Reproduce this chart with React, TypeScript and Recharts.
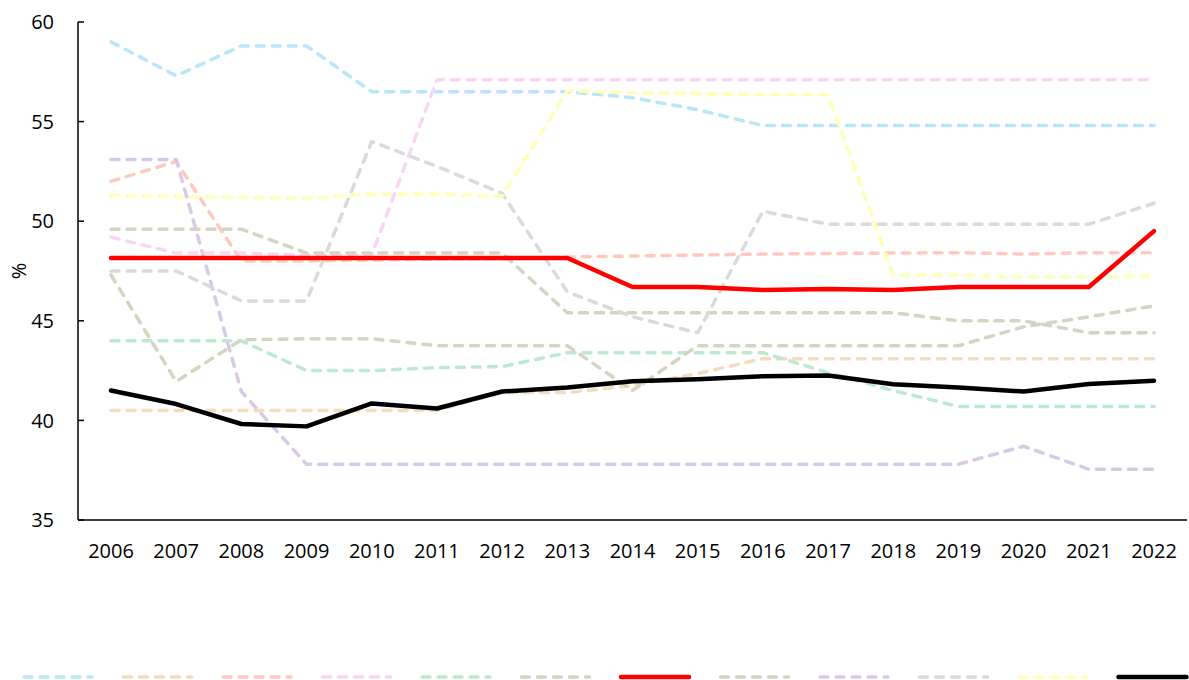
import { LineChart, Line, XAxis, YAxis, Legend } from "recharts";

const years = [
  "2006", "2007", "2008", "2009", "2010", "2011", "2012", "2013", "2014",
  "2015", "2016", "2017", "2018", "2019", "2020", "2021", "2022",
];

const yTicks = [35, 40, 45, 50, 55, 60];

// values, one array per line
const blueValues = [59.0, 57.3, 58.8, 58.8, 56.5, 56.5, 56.5, 56.5, 56.2, 55.6, 54.8, 54.8, 54.8, 54.8, 54.8, 54.8, 54.8];
const peachValues = [40.5, 40.5, 40.5, 40.5, 40.5, 40.5, 41.4, 41.4, 41.75, 42.35, 43.1, 43.1, 43.1, 43.1, 43.1, 43.1, 43.1];
const salmonValues = [52.0, 53.0, 48.0, 48.0, 48.05, 48.1, 48.1, 48.2, 48.25, 48.3, 48.35, 48.38, 48.4, 48.42, 48.35, 48.42, 48.42];
const pinkValues = [49.2, 48.4, 48.4, 48.3, 48.3, 57.1, 57.1, 57.1, 57.1, 57.1, 57.1, 57.1, 57.1, 57.1, 57.1, 57.1, 57.1];
const greenValues = [44.0, 44.0, 44.0, 42.5, 42.5, 42.65, 42.7, 43.4, 43.4, 43.4, 43.4, 42.4, 41.5, 40.7, 40.7, 40.7, 40.7];
const oliveValues = [49.6, 49.6, 49.6, 48.4, 48.4, 48.4, 48.4, 45.4, 45.4, 45.4, 45.4, 45.4, 45.4, 45.0, 45.0, 44.4, 44.4];
const redValues = [48.15, 48.15, 48.15, 48.15, 48.15, 48.15, 48.15, 48.15, 46.7, 46.7, 46.55, 46.6, 46.55, 46.7, 46.7, 46.7, 49.5];
const olive2Values = [47.3, 41.95, 44.05, 44.1, 44.1, 43.75, 43.75, 43.75, 41.5, 43.75, 43.75, 43.75, 43.75, 43.75, 44.7, 45.2, 45.75];
const lavenderValues = [53.1, 53.1, 41.45, 37.8, 37.8, 37.8, 37.8, 37.8, 37.8, 37.8, 37.8, 37.8, 37.8, 37.8, 38.7, 37.55, 37.55];
const grayValues = [47.5, 47.5, 46.0, 46.0, 54.0, 52.75, 51.4, 46.45, 45.2, 44.4, 50.5, 49.85, 49.85, 49.85, 49.85, 49.85, 50.9];
const yellowValues = [51.3, 51.25, 51.2, 51.15, 51.35, 51.35, 51.25, 56.55, 56.45, 56.4, 56.35, 56.35, 47.3, 47.3, 47.2, 47.2, 47.25];
const blackValues = [41.5, 40.82, 39.82, 39.7, 40.85, 40.6, 41.45, 41.65, 41.96, 42.07, 42.22, 42.25, 41.82, 41.65, 41.45, 41.83, 41.99];

type SeriesDef = {
  key: string;
  values: number[];
  color: string;
  width: number;
  dash?: string;
};

// legend order
const series: SeriesDef[] = [
  { key: "s1", values: blueValues, color: "#BAE6F9", width: 3.5, dash: "8 8" },
  { key: "s2", values: peachValues, color: "#F5DCBF", width: 3.5, dash: "8 8" },
  { key: "s3", values: salmonValues, color: "#FFC9BF", width: 3.5, dash: "8 8" },
  { key: "s4", values: pinkValues, color: "#F7D7F3", width: 3.5, dash: "8 8" },
  { key: "s5", values: greenValues, color: "#BEE9D1", width: 3.5, dash: "8 8" },
  { key: "s6", values: oliveValues, color: "#D3D5C0", width: 3.5, dash: "8 8" },
  { key: "s7", values: redValues, color: "#FF0000", width: 4.5 },
  { key: "s8", values: olive2Values, color: "#D3D5C0", width: 3.5, dash: "8 8" },
  { key: "s9", values: lavenderValues, color: "#D9C9E6", width: 3.5, dash: "8 8" },
  { key: "s10", values: grayValues, color: "#DADADA", width: 3.5, dash: "8 8" },
  { key: "s11", values: yellowValues, color: "#FFFFB8", width: 3.5, dash: "8 8" },
  { key: "s12", values: blackValues, color: "#000000", width: 4.5 },
];

const data = years.map((year, i) => {
  const row: Record<string, string | number> = { year };
  series.forEach((s) => {
    row[s.key] = s.values[i];
  });
  return row;
});

// dashed lines underneath, the two solid ones on top
const drawOrder = [...series.filter((s) => s.dash), ...series.filter((s) => !s.dash)];

const LegendLines = () => (
  <svg width={1189} height={30} style={{ display: "block" }}>
    {series.map((s, i) => (
      <line
        key={s.key}
        x1={24 + i * 99.5}
        x2={92 + i * 99.5}
        y1={27}
        y2={27}
        stroke={s.color}
        strokeWidth={s.width}
        strokeDasharray={s.dash}
        strokeLinecap="round"
      />
    ))}
  </svg>
);

export default function App() {
  return (
    <div style={{ position: "absolute", left: 0, top: 0, fontFamily: "'Open Sans', sans-serif" }}>
      <LineChart
        width={1189}
        height={680}
        data={data}
        margin={{ top: 22, right: 2, left: 0, bottom: 0 }}
      >
        <XAxis
          dataKey="year"
          interval={0}
          height={130}
          padding={{ left: 33, right: 33 }}
          axisLine={{ stroke: "#000", strokeWidth: 1.5 }}
          tickLine={false}
          tickMargin={18}
          tick={{ fill: "#000", fontSize: 20 }}
        />
        <YAxis
          type="number"
          domain={[35, 60]}
          ticks={yTicks}
          interval={0}
          width={78}
          axisLine={{ stroke: "#000", strokeWidth: 1.5 }}
          tickLine={{ stroke: "#000", strokeWidth: 1.5 }}
          tickSize={-6}
          tickMargin={30}
          tick={{ fill: "#000", fontSize: 20 }}
          label={{ value: "%", angle: -90, position: "center", dx: -20, fill: "#000", fontSize: 20 }}
        />
        <Legend verticalAlign="bottom" width={1189} wrapperStyle={{ left: 0 }} content={LegendLines} />
        {drawOrder.map((s) => (
          <Line
            key={s.key}
            dataKey={s.key}
            type="linear"
            stroke={s.color}
            strokeWidth={s.width}
            strokeDasharray={s.dash}
            strokeLinecap="round"
            strokeLinejoin="round"
            dot={false}
            activeDot={false}
            isAnimationActive={false}
          />
        ))}
      </LineChart>
    </div>
  );
}
